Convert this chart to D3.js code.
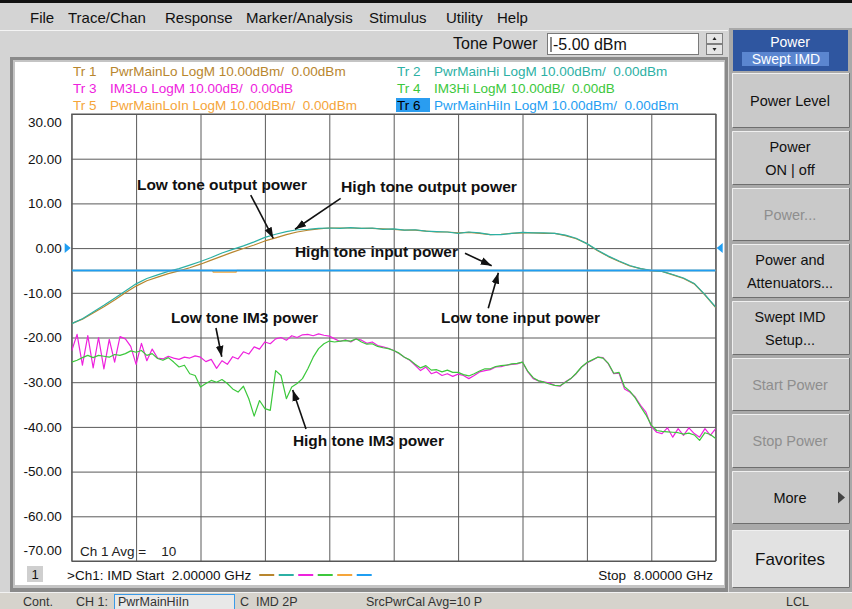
<!DOCTYPE html>
<html>
<head>
<meta charset="utf-8">
<script src="https://cdn.jsdelivr.net/npm/d3@7"></script>
<style>
  body { margin: 0; background: #d4d4d4; }
  svg { display: block; font-family: "Liberation Sans", Arial, sans-serif; }
  text { white-space: pre; }
</style>
</head>
<body>
<svg id="chart"></svg>
<script>
// ---- data ----
const fStart = 2.0;   // GHz
const fStop = 8.0;    // GHz
const yTicks = [30, 20, 10, 0, -10, -20, -30, -40, -50, -60, -70];
const xGrid = [2.0, 2.6, 3.2, 3.8, 4.4, 5.0, 5.6, 6.2, 6.8, 7.4, 8.0];

// output power, 0.1 GHz steps (dBm)
const pwrMainHi = [-16.9, -15.8, -14.3, -12.8, -11.2, -9.6, -8.0, -6.8, -6.0, -5.2,
  -4.6, -3.8, -3.0, -2.1, -1.1, -0.3, 0.5, 1.4, 2.4, 3.1,
  3.7, 4.1, 4.2, 4.4, 4.5, 4.4, 4.6, 4.4, 4.5, 4.2,
  4.3, 4.0, 4.1, 3.8, 3.7, 3.6, 3.3, 3.6, 3.4, 3.0,
  3.0, 3.3, 3.5, 3.4, 3.4, 3.3, 2.9, 2.2, 1.0, -0.5,
  -1.8, -2.9, -3.9, -4.6, -5.0, -5.2, -5.9, -6.7, -7.9, -10.4, -13.2];
const pwrMainLo = [-16.9, -15.9, -14.5, -13.1, -11.6, -10.0, -8.5, -7.3, -6.5, -5.7,
  -5.1, -4.4, -3.6, -2.7, -1.8, -0.9, -0.1, 0.7, 1.6, 2.3,
  3.0, 3.6, 4.0, 4.3, 4.5, 4.5, 4.5, 4.4, 4.4, 4.3,
  4.2, 4.0, 4.0, 3.8, 3.6, 3.6, 3.4, 3.5, 3.3, 3.0,
  3.1, 3.3, 3.4, 3.4, 3.3, 3.3, 2.8, 2.1, 1.0, -0.6,
  -1.9, -3.0, -4.0, -4.6, -5.1, -5.2, -6.0, -6.8, -8.0, -10.5, -13.3];

// input power (dBm)
const inFreq = [2.0, 3.31, 3.32, 3.53, 3.54, 8.0];
const pwrMainLoIn = [-5, -5, -5.35, -5.35, -5, -5];
const pwrMainHiIn = [-5, -5, -5, -5, -5, -5];

// IM3 power, 0.05 GHz steps (dB)
const im3Lo = [-23.0, -19.3, -26.2, -19.6, -26.8, -20.0, -27.0, -20.4, -25.5, -19.8,
  -20.3, -22.0, -26.0, -21.3, -25.2, -22.6, -24.6, -24.8, -24.2, -24.6,
  -24.9, -24.4, -24.6, -24.1, -24.4, -25.4, -24.9, -26.9, -25.2, -26.0,
  -24.3, -24.8, -23.2, -23.7, -22.1, -22.6, -21.0, -21.4, -20.3, -20.0,
  -20.6, -19.6, -20.0, -19.4, -19.3, -19.6, -19.2, -19.5, -19.7, -20.3,
  -20.9, -20.5, -21.0, -20.3, -20.6, -21.3, -21.0, -21.8, -22.1, -22.4,
  -22.9, -23.6, -24.4, -25.1, -26.2, -27.4, -26.6, -28.1, -27.7, -28.5,
  -28.1, -28.7, -28.2, -28.5, -29.2, -28.5, -27.7, -27.4, -27.2, -26.6,
  -26.5, -26.2, -26.0, -25.9, -25.5, -27.7, -29.2, -29.7, -29.9, -30.2,
  -30.7, -30.9, -29.9, -29.2, -28.1, -26.6, -25.7, -25.1, -24.4, -24.5,
  -25.9, -28.1, -28.0, -31.5, -32.2, -33.3, -35.2, -36.7, -39.9, -41.2,
  -41.5, -40.2, -42.3, -40.4, -41.9, -40.2, -41.5, -42.3, -40.4, -41.9, -40.4];
const im3Hi = [-25.5, -25.1, -24.5, -24.0, -24.5, -24.0, -24.2, -24.4, -23.8, -24.0,
  -23.6, -23.0, -23.3, -22.9, -24.0, -23.6, -24.7, -25.1, -24.5, -25.5,
  -26.6, -26.2, -28.1, -28.5, -31.1, -30.3, -29.6, -30.0, -29.4, -30.3,
  -31.5, -32.2, -30.9, -33.7, -37.6, -34.1, -35.9, -36.3, -27.4, -28.5,
  -33.7, -31.1, -30.3, -29.2, -27.0, -24.4, -22.5, -21.4, -20.8, -21.0,
  -20.8, -20.7, -20.8, -20.3, -21.0, -21.5, -21.4, -22.0, -22.3, -22.5,
  -22.9, -23.5, -24.4, -25.0, -26.0, -26.8, -26.3, -27.3, -27.2, -27.7,
  -27.3, -27.8, -27.8, -28.3, -28.6, -28.1, -27.5, -27.0, -27.0, -26.5,
  -26.3, -26.2, -25.9, -25.8, -25.5, -27.6, -29.0, -29.7, -30.0, -30.4,
  -30.7, -30.8, -30.0, -29.2, -28.0, -26.6, -25.6, -25.0, -24.4, -24.6,
  -25.8, -28.0, -27.8, -31.0, -32.0, -33.5, -35.5, -37.3, -39.6, -40.8,
  -41.0, -41.1, -41.2, -41.3, -41.6, -41.4, -41.8, -43.0, -41.3, -41.7, -42.6];

const traceNames = ['PwrMainLo', 'PwrMainHi', 'IM3Lo', 'IM3Hi', 'PwrMainLoIn', 'PwrMainHiIn'];
const traceFormats = ['LogM 10.00dBm/  0.00dBm', 'LogM 10.00dBm/  0.00dBm', 'LogM 10.00dB/  0.00dB',
  'LogM 10.00dB/  0.00dB', 'LogM 10.00dBm/  0.00dBm', 'LogM 10.00dBm/  0.00dBm'];
const traceColors = ['#b8862e', '#2cb0a4', '#ee22dd', '#3cc83c', '#f5a53a', '#1f9ef2'];

const menuItems = ['File', 'Trace/Chan', 'Response', 'Marker/Analysis', 'Stimulus', 'Utility', 'Help'];
const menuX = [30, 68, 165, 246, 369, 446, 497];

// annotations: text at (f, dB), arrow from -> to in (f, dB)
const notes = [
  { text: 'Low tone output power', f: 2.608, v: 13.0, w: 170, from: [3.668, 11.86], to: [3.878, 2.19] },
  { text: 'High tone output power', f: 4.509, v: 12.55, w: 176, from: [4.506, 11.14], to: [4.081, 4.21] },
  { text: 'High tone input power', f: 4.08, v: -2.0, w: 163, from: [5.664, -1.16], to: [5.913, -3.94] },
  { text: 'Low tone input power', f: 5.441, v: -16.75, w: 159, from: [5.881, -13.47], to: [5.975, -5.5] },
  { text: 'Low tone IM3 power', f: 2.925, v: -16.75, w: 147, from: [3.344, -17.87], to: [3.398, -24.3] },
  { text: 'High tone IM3 power', f: 4.061, v: -44.3, w: 151, from: [4.183, -40.47], to: [4.059, -31.77] }
];

const softkeys = [
  { lines: ['Power Level'], y0: 73, y1: 128 },
  { lines: ['Power', 'ON | off'], y0: 131, y1: 185 },
  { lines: ['Power...'], y0: 188, y1: 241, off: true },
  { lines: ['Power and', 'Attenuators...'], y0: 244, y1: 298 },
  { lines: ['Swept IMD', 'Setup...'], y0: 301, y1: 355 },
  { lines: ['Start Power'], y0: 358, y1: 411, off: true },
  { lines: ['Stop Power'], y0: 414, y1: 468, off: true },
  { lines: ['More'], y0: 471, y1: 524, more: true },
  { lines: ['Favorites'], y0: 530, y1: 588, fav: true }
];

// ---- page ----
const width = 852;
const height = 609;
const plot = { left: 71.7, right: 715.7, top: 114, bottom: 561 };

const svg = d3.select('#chart')
  .attr('width', width)
  .attr('height', height);

svg.append('rect').attr('width', width).attr('height', height).attr('fill', '#d4d4d4');
svg.append('rect').attr('width', width).attr('height', 3).attr('fill', '#111');

// menu bar
menuItems.forEach((m, i) => {
  svg.append('text')
    .attr('x', menuX[i]).attr('y', 23)
    .style('font-size', '15px').attr('fill', '#111')
    .text(m);
});
svg.append('line').attr('x1', 0).attr('x2', 728).attr('y1', 30.5).attr('y2', 30.5).attr('stroke', '#f4f4f4');

// tone power bar
svg.append('text').attr('x', 453).attr('y', 49).style('font-size', '16px').attr('fill', '#111').text('Tone Power');
svg.append('rect').attr('x', 547.5).attr('y', 33.5).attr('width', 151).attr('height', 21)
  .attr('fill', '#fff').attr('stroke', '#7a7a7a');
svg.append('line').attr('x1', 551).attr('x2', 551).attr('y1', 37).attr('y2', 52).attr('stroke', '#111');
svg.append('text').attr('x', 553).attr('y', 50).style('font-size', '16px').attr('fill', '#111').text('-5.00 dBm');
const spin = svg.append('g').attr('transform', 'translate(706,33)');
[0, 11].forEach((dy, i) => {
  spin.append('rect').attr('x', 0.5).attr('y', dy + 0.5).attr('width', 16).attr('height', 10)
    .attr('fill', '#e6e6e6').attr('stroke', '#808080');
  spin.append('path')
    .attr('d', i === 0 ? `M6.5,${dy + 7}L8.5,${dy + 4}L10.5,${dy + 7}Z` : `M6.5,${dy + 4}L8.5,${dy + 7}L10.5,${dy + 4}Z`)
    .attr('fill', '#222');
});

// chart window frame
svg.append('rect').attr('x', 10).attr('y', 57).attr('width', 718).attr('height', 535).attr('fill', '#8a8a8a');
svg.append('rect').attr('x', 13).attr('y', 60).attr('width', 712).attr('height', 528).attr('fill', '#c4c4c4');
svg.append('rect').attr('x', 15).attr('y', 62).attr('width', 709).attr('height', 523).attr('fill', '#fff');

// legend rows
traceNames.forEach((name, i) => {
  const col = i % 2;
  const row = Math.floor(i / 2);
  const x0 = col === 0 ? 73 : 397;
  const y0 = 76 + row * 17;
  if (i === 5) {
    svg.append('rect').attr('x', 396).attr('y', y0 - 12).attr('width', 34).attr('height', 14).attr('fill', '#2a9df0');
  }
  svg.append('text').attr('x', x0).attr('y', y0)
    .style('font-size', '13.5px')
    .attr('fill', i === 5 ? '#000' : traceColors[i])
    .text(`Tr ${i + 1}`);
  svg.append('text').attr('x', x0 + 37).attr('y', y0)
    .style('font-size', '13.5px')
    .attr('fill', traceColors[i])
    .text(`${name} ${traceFormats[i]}`);
});

// scales
const x = d3.scaleLinear().domain([fStart, fStop]).range([plot.left, plot.right]);
const y = d3.scaleLinear().domain([-70, 30]).range([plot.bottom, plot.top]);

// grid via axes
const yAxis = d3.axisLeft(y)
  .tickValues(yTicks)
  .tickSize(-(plot.right - plot.left))
  .tickPadding(10)
  .tickFormat(d => d.toFixed(2));

const gy = svg.append('g')
  .attr('transform', `translate(${plot.left},0)`)
  .call(yAxis);
gy.select('.domain').remove();
gy.selectAll('line').attr('stroke', '#5a5a5a');
gy.selectAll('text')
  .attr('fill', '#111')
  .style('font-size', '13.5px')
  .style('font-family', '"Liberation Sans", Arial, sans-serif');
gy.selectAll('.tick').filter(d => d === 30).select('text').attr('dy', '0.95em');
gy.selectAll('.tick').filter(d => d === -70).select('text').attr('dy', '-0.45em');

const xAxis = d3.axisBottom(x)
  .tickValues(xGrid)
  .tickSize(-(plot.bottom - plot.top))
  .tickFormat('');
const gx = svg.append('g')
  .attr('transform', `translate(0,${plot.bottom})`)
  .call(xAxis);
gx.select('.domain').remove();
gx.selectAll('line').attr('stroke', '#5a5a5a');

svg.append('rect')
  .attr('x', plot.left).attr('y', plot.top)
  .attr('width', plot.right - plot.left).attr('height', plot.bottom - plot.top)
  .attr('fill', 'none').attr('stroke', '#555');

// reference markers at 0 dB
svg.append('path')
  .attr('d', `M${plot.left - 7},${y(0) - 5}L${plot.left - 1},${y(0)}L${plot.left - 7},${y(0) + 5}Z`)
  .attr('fill', traceColors[5]);
svg.append('path')
  .attr('d', `M${plot.right + 7},${y(0) - 5}L${plot.right + 1},${y(0)}L${plot.right + 7},${y(0) + 5}Z`)
  .attr('fill', traceColors[5]);

// traces
svg.append('clipPath').attr('id', 'clip')
  .append('rect')
  .attr('x', plot.left).attr('y', plot.top)
  .attr('width', plot.right - plot.left).attr('height', plot.bottom - plot.top);

const line = d3.line().x(d => x(d[0])).y(d => y(d[1]));
const outFreq = pwrMainHi.map((_, i) => fStart + i * 0.1);
const imFreq = im3Lo.map((_, i) => fStart + i * 0.05);
const zip = (fs, vs) => fs.map((f, i) => [f, vs[i]]);

const traces = [
  { pts: zip(outFreq, pwrMainLo), color: traceColors[0], w: 1.2 },
  { pts: zip(outFreq, pwrMainHi), color: traceColors[1], w: 1.2 },
  { pts: zip(imFreq, im3Lo), color: traceColors[2], w: 1.2 },
  { pts: zip(imFreq, im3Hi), color: traceColors[3], w: 1.2 },
  { pts: zip(inFreq, pwrMainLoIn), color: traceColors[4], w: 1.5 },
  { pts: zip(inFreq, pwrMainHiIn), color: traceColors[5], w: 2 }
];

svg.append('g').attr('clip-path', 'url(#clip)')
  .selectAll('path')
  .data(traces)
  .join('path')
  .attr('d', d => line(d.pts))
  .attr('fill', 'none')
  .attr('stroke', d => d.color)
  .attr('stroke-width', d => d.w)
  .attr('stroke-linejoin', 'round');

// annotations
svg.append('defs').append('marker')
  .attr('id', 'arrow')
  .attr('viewBox', '0 0 10 10')
  .attr('refX', 10).attr('refY', 5)
  .attr('markerWidth', 11).attr('markerHeight', 11)
  .attr('markerUnits', 'userSpaceOnUse')
  .attr('orient', 'auto')
  .append('path').attr('d', 'M0,1.5L10,5L0,8.5Z').attr('fill', '#111');

const ann = svg.append('g');
ann.selectAll('line')
  .data(notes)
  .join('line')
  .attr('x1', d => x(d.from[0])).attr('y1', d => y(d.from[1]))
  .attr('x2', d => x(d.to[0])).attr('y2', d => y(d.to[1]))
  .attr('stroke', '#111').attr('stroke-width', 1.6)
  .attr('marker-end', 'url(#arrow)');
ann.selectAll('text')
  .data(notes)
  .join('text')
  .attr('x', d => x(d.f)).attr('y', d => y(d.v))
  .attr('textLength', d => d.w)
  .attr('lengthAdjust', 'spacingAndGlyphs')
  .style('font-size', '15px').style('font-weight', 'bold')
  .attr('fill', '#111')
  .text(d => d.text);

// channel info inside the window
svg.append('text').attr('x', 80).attr('y', 556).style('font-size', '13.5px').attr('fill', '#222')
  .text('Ch 1 Avg =    10');
svg.append('rect').attr('x', 27).attr('y', 566).attr('width', 16).attr('height', 16).attr('fill', '#cfcfcf');
svg.append('text').attr('x', 35).attr('y', 579).attr('text-anchor', 'middle').style('font-size', '13px').attr('fill', '#111').text('1');
const startLbl = svg.append('text').attr('x', 67).attr('y', 580).style('font-size', '13.5px').attr('fill', '#111')
  .text('>Ch1: IMD Start  2.00000 GHz');
const dashX = 67 + startLbl.node().getComputedTextLength() + 8;
traceColors.forEach((c, i) => {
  svg.append('line')
    .attr('x1', dashX + i * 19.5).attr('x2', dashX + i * 19.5 + 15)
    .attr('y1', 575).attr('y2', 575)
    .attr('stroke', c).attr('stroke-width', 2);
});
svg.append('text').attr('x', 713).attr('y', 580).attr('text-anchor', 'end').style('font-size', '13.5px').attr('fill', '#111')
  .text('Stop  8.00000 GHz');

// status bar
svg.append('rect').attr('x', 0).attr('y', 592).attr('width', width).attr('height', 17).attr('fill', '#d6d3cc');
svg.append('line').attr('x1', 0).attr('x2', width).attr('y1', 592.5).attr('y2', 592.5).attr('stroke', '#f2f2f2');
svg.append('rect').attr('x', 114.5).attr('y', 594.5).attr('width', 120).attr('height', 15)
  .attr('fill', '#e8e8e8').attr('stroke', '#3a9ae8');
[['Cont.', 23], ['CH 1:', 76], ['PwrMainHiIn', 118], ['C  IMD 2P', 240], ['SrcPwrCal Avg=10 P', 366], ['LCL', 786]]
  .forEach(([t, tx]) => {
    svg.append('text').attr('x', tx).attr('y', 606).style('font-size', '12.5px').attr('fill', '#333').text(t);
  });

// softkey panel
svg.append('rect').attr('x', 729).attr('y', 28).attr('width', 123).attr('height', 564).attr('fill', '#a9a9a9');
svg.append('rect').attr('x', 733).attr('y', 30).attr('width', 115).attr('height', 41).attr('fill', '#2f56a0');
svg.append('rect').attr('x', 742).attr('y', 52).attr('width', 87).attr('height', 14).attr('fill', '#5b86d0');
svg.append('text').attr('x', 790).attr('y', 47).attr('text-anchor', 'middle').style('font-size', '14px').attr('fill', '#fff').text('Power');
svg.append('text').attr('x', 786).attr('y', 64).attr('text-anchor', 'middle').style('font-size', '14px').attr('fill', '#fff').text('Swept IMD');

const keys = svg.append('g');
softkeys.forEach(k => {
  const g = keys.append('g');
  g.append('rect').attr('x', 732).attr('y', k.y0).attr('width', 118).attr('height', k.y1 - k.y0)
    .attr('fill', k.fav ? '#e2e2e2' : '#c9c9c9');
  g.append('path').attr('d', `M732.5,${k.y1}V${k.y0 + 0.5}H849.5`).attr('fill', 'none').attr('stroke', '#f0f0f0');
  g.append('path').attr('d', `M732.5,${k.y1 - 0.5}H849.5V${k.y0}`).attr('fill', 'none').attr('stroke', '#6e6e6e');
  const cy = (k.y0 + k.y1) / 2;
  const n = k.lines.length;
  k.lines.forEach((ln, j) => {
    g.append('text')
      .attr('x', 790).attr('y', cy + (j - (n - 1) / 2) * 23)
      .attr('dy', '0.35em')
      .attr('text-anchor', 'middle')
      .style('font-size', k.fav ? '17px' : '14.5px')
      .attr('fill', k.off ? '#8e8e8e' : '#111')
      .text(ln);
  });
  if (k.more) {
    g.append('path').attr('d', `M838,${cy - 6}L845,${cy}L838,${cy + 6}Z`).attr('fill', '#444');
  }
});
</script>
</body>
</html>
